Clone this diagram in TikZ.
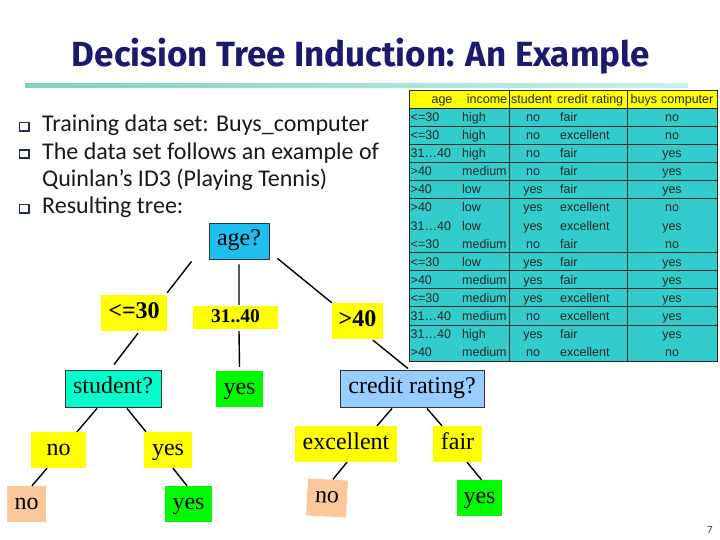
\documentclass[tikz,border=0pt]{standalone}
\usepackage{fontspec}
\setmainfont{Liberation Serif}
\newfontfamily\calib{Carlito}
\newfontfamily\arialf{Liberation Sans}
\newfontfamily\titlef{Fira Sans}
\definecolor{titleblue}{RGB}{27,27,110}
\definecolor{agecol}{RGB}{30,190,240}
\definecolor{ylw}{RGB}{255,255,0}
\definecolor{aqua}{RGB}{0,255,204}
\definecolor{grn}{RGB}{0,250,0}
\definecolor{ltblue}{RGB}{153,204,255}
\definecolor{peach}{RGB}{250,200,155}
\definecolor{teal}{RGB}{51,204,204}
\definecolor{bulletc}{RGB}{35,45,100}
\definecolor{lineL}{RGB}{130,208,190}
\definecolor{lineR}{RGB}{200,240,240}
\tikzset{
  tbox/.style={inner sep=0pt, text=black, text height=15bp, text depth=5bp, font=\fontsize{24bp}{28bp}\selectfont},
  lbl/.style={tbox, fill=ylw, font=\bfseries\fontsize{24bp}{28bp}\selectfont},
  qbox/.style={tbox, draw=black!80, line width=0.9bp},
  leaf/.style={tbox},
  edge/.style={line width=1.4bp, black},
  cell/.style={inner sep=0pt, text=black!85, font=\arialf\fontsize{12.5bp}{14bp}\selectfont},
  btxt/.style={inner sep=0pt, anchor=base west, text=black!90, font=\calib\fontsize{24bp}{28bp}\selectfont},
}
\begin{document}
\begin{tikzpicture}[x=1bp,y=-1bp]
\useasboundingbox (0,0) rectangle (720,540);
% title
\node[inner sep=0pt, anchor=base, text=titleblue, font=\titlef\bfseries\fontsize{35bp}{40bp}\selectfont] (title) at (361,67) {Decision Tree Induction: An Example};
\shade[left color=lineL, right color=lineR] (25,84) rectangle (688,88);
% bullets
\foreach \by in {132,159.5,214}{
  \fill[bulletc] (19,\by-10) rectangle (30,\by);
  \fill[white] (20.2,\by-8.8) rectangle (27.6,\by-2.4);
}
\node[btxt] (b1) at (42,132) {Training data set: Buys\_computer};
\node[btxt] (b2) at (42,159.5) {The data set follows an example of};
\node[btxt] (b3) at (42,187) {Quinlan’s ID3 (Playing Tennis)};
\node[btxt] (b4) at (42,214) {Resulting tree:};
% table
\def\rh{18.07}
\fill[ylw] (409,90) rectangle (717,90+\rh);
\fill[teal] (409,90+\rh) rectangle (717,90+15*\rh);
\draw[line width=0.8bp, black!85] (409,90) rectangle (717,90+15*\rh);
\draw[line width=0.8bp, black!85] (509,90) -- (509,90+15*\rh) (627,90) -- (627,90+15*\rh);
\foreach \k in {1,2,3,4,5,6,9,10,11,12,13}{
  \draw[line width=0.8bp, black!85] (409,90+\k*\rh) -- (717,90+\k*\rh);
}
\node[cell, anchor=base] (h1) at (442,90+0.5*\rh+4.5) {age};
\node[cell, anchor=base] (h2) at (487,90+0.5*\rh+4.5) {income};
\node[cell, anchor=base west] (h3) at (511,90+0.5*\rh+4.5) {student};
\node[cell, anchor=base west] (h4) at (557,90+0.5*\rh+4.5) {credit\,\,rating};
\node[cell, anchor=base] (h5) at (672,90+0.5*\rh+4.5) {buys\,\,computer};
\foreach \a/\b/\c/\d/\e [count=\i] in {
  <=30/high/no/fair/no,
  <=30/high/no/excellent/no,
  31…40/high/no/fair/yes,
  >40/medium/no/fair/yes,
  >40/low/yes/fair/yes,
  >40/low/yes/excellent/no,
  31…40/low/yes/excellent/yes,
  <=30/medium/no/fair/no,
  <=30/low/yes/fair/yes,
  >40/medium/yes/fair/yes,
  <=30/medium/yes/excellent/yes,
  31…40/medium/no/excellent/yes,
  31…40/high/yes/fair/yes,
  >40/medium/no/excellent/no}{
  \node[cell, anchor=base west] (ra\i) at (410.5,90+\i*\rh+0.5*\rh+4.5) {\a};
  \node[cell, anchor=base west] (rb\i) at (462,90+\i*\rh+0.5*\rh+4.5) {\b};
  \node[cell, anchor=base] (rc\i) at (533,90+\i*\rh+0.5*\rh+4.5) {\c};
  \node[cell, anchor=base west] (rd\i) at (560,90+\i*\rh+0.5*\rh+4.5) {\d};
  \node[cell, anchor=base] (re\i) at (672,90+\i*\rh+0.5*\rh+4.5) {\e};
}
% tree nodes
\node[qbox, fill=agecol, minimum width=60bp, minimum height=36bp] (age) at (239,241) {age?};
\node[lbl, minimum width=66bp, minimum height=36bp] (le) at (134,313) {<=30};
\node[lbl, minimum width=85bp, minimum height=23bp, text height=13bp, text depth=4bp, font=\bfseries\fontsize{19.5bp}{22bp}\selectfont] (mid) at (235.5,317.5) {31..40};
\node[lbl, minimum width=51bp, minimum height=36bp] (gt) at (357.5,321) {>40};
\node[qbox, fill=aqua, minimum width=96bp, minimum height=37bp] (stu) at (113,388.5) {student?};
\node[leaf, fill=grn, minimum width=47bp, minimum height=36bp] (yesm) at (239.5,389) {yes};
\node[qbox, fill=ltblue, minimum width=144bp, minimum height=37bp] (cr) at (412,388.5) {credit rating?};
\node[tbox, fill=ylw, minimum width=55bp, minimum height=36bp] (no1) at (58.5,450) {no};
\node[tbox, fill=ylw, minimum width=48bp, minimum height=36bp] (yes1) at (168,450) {yes};
\node[leaf, fill=peach, minimum width=39bp, minimum height=36bp] (nol) at (26.5,504) {no};
\node[leaf, fill=grn, minimum width=47bp, minimum height=36bp] (yesl) at (188.5,504) {yes};
\node[tbox, fill=ylw, minimum width=102bp, minimum height=36bp] (exc) at (346,444) {excellent};
\node[tbox, fill=ylw, minimum width=49bp, minimum height=36bp] (fair) at (457.5,444) {fair};
\node[leaf, fill=peach, minimum width=40bp, minimum height=37bp, rotate=-3] (nor) at (327,498) {no};
\node[leaf, fill=grn, minimum width=45bp, minimum height=36bp] (yesr) at (479.5,498) {yes};
% connectors
\draw[edge] ([shift={(-17,2)}]age.south west) -- ([shift={(0,-2)}]le.north east);
\draw[edge] ([shift={(4,2)}]le.south) -- ([shift={(1,-5)}]stu.north);
\draw[edge] ([shift={(0,5)}]age.south) -- ([shift={(3.5,-1)}]mid.north);
\draw[edge] ([shift={(3.5,2)}]mid.south) -- ([shift={(0,-4)}]yesm.north);
\draw[edge] ([shift={(8,-1)}]age.south east) -- (gt.north west);
\draw[edge] ([shift={(15.5,1)}]gt.south) -- ([shift={(-4,-1)}]cr.north);
\draw[edge] ([shift={(-16,1)}]stu.south) -- ([shift={(18.5,0)}]no1.north);
\draw[edge] ([shift={(14,1)}]stu.south) -- ([shift={(-22,0)}]yes1.north);
\draw[edge] ([shift={(-11.5,0)}]no1.south) -- ([shift={(5.5,0)}]nol.north);
\draw[edge] ([shift={(5,0)}]yes1.south) -- ([shift={(-1.5,0)}]yesl.north);
\draw[edge] ([shift={(-20,1)}]cr.south) -- ([shift={(31,0)}]exc.north);
\draw[edge] ([shift={(15,1)}]cr.south) -- ([shift={(-15.5,0)}]fair.north);
\draw[edge] ([shift={(1,0)}]exc.south) -- ([shift={(5,0)}]nor.north);
\draw[edge] ([shift={(9.5,0)}]fair.south) -- ([shift={(2,0)}]yesr.north);
% page number
\node[inner sep=0pt, text=black!75, font=\calib\fontsize{11bp}{13bp}\selectfont] (pg) at (710,530) {7};
\end{tikzpicture}
\end{document}
